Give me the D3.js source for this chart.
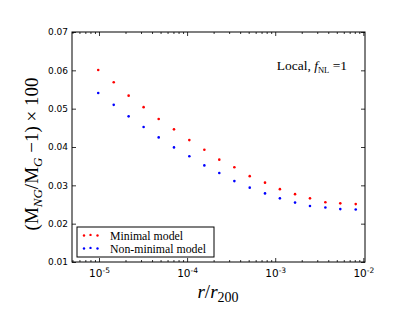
<!DOCTYPE html>
<html>
<head>
<meta charset="utf-8">
<script src="https://cdn.jsdelivr.net/npm/d3@7"></script>
<style>
  body { margin: 0; background: #fff; }
  svg { display: block; }
</style>
</head>
<body>
<svg class="chart" width="415" height="314"></svg>
<script>
// radius bins (r / r200)
const radius = [9.8e-6, 1.47e-5, 2.17e-5, 3.21e-5, 4.76e-5, 7.1e-5, 1.06e-4, 1.57e-4, 2.32e-4,
  3.44e-4, 5.14e-4, 7.66e-4, 1.13e-3, 1.68e-3, 2.48e-3, 3.71e-3, 5.48e-3, 8.2e-3];
// (M_NG/M_G - 1) x 100
const minimal = [0.0601, 0.0569, 0.0534, 0.0504, 0.0473, 0.0446, 0.0418, 0.0393, 0.0367,
  0.0347, 0.0324, 0.0307, 0.0290, 0.0277, 0.0266, 0.0256, 0.0253, 0.0251];
const nonMinimal = [0.0541, 0.0510, 0.0480, 0.0452, 0.0425, 0.0399, 0.0376, 0.0352, 0.0332,
  0.0311, 0.0294, 0.0279, 0.0266, 0.0255, 0.0246, 0.0242, 0.0238, 0.0237];
const yTicks = [0.01, 0.02, 0.03, 0.04, 0.05, 0.06, 0.07];
const xTicks = [1e-5, 1e-4, 1e-3, 1e-2];
const seriesNames = ['Minimal model', 'Non-minimal model'];
const seriesColors = ['#ff0000', '#0000ff'];

const svg = d3.select('.chart');
const pLeft = 72, pRight = 365, pTop = 32, pBottom = 262;

const x = d3.scaleLog().domain([4.94e-6, 1.045e-2]).range([pLeft, pRight]);
const y = d3.scaleLinear().domain([0.01, 0.07]).range([pBottom, pTop]);

// minor ticks on the log axis
const minor = [];
for (let e = -6; e <= -2; e++) {
  for (let m = 2; m <= 9; m++) {
    const v = m * Math.pow(10, e);
    if (v > x.domain()[0] && v < x.domain()[1]) minor.push(v);
  }
}

const tickFont = 'DejaVu Sans, sans-serif';

function styleAxis(g) {
  g.select('.domain').remove();
  g.selectAll('line').attr('stroke', '#000').attr('stroke-width', 0.8);
}

// y axis left (labels) and right
svg.append('g')
  .attr('transform', `translate(${pLeft},0)`)
  .call(d3.axisLeft(y).tickValues(yTicks).tickSize(-4).tickPadding(4).tickFormat(d3.format('.2f')))
  .call(styleAxis)
  .call(g => g.selectAll('text').attr('fill', '#000').style('font-family', tickFont).style('font-size', '9px'));

svg.append('g')
  .attr('transform', `translate(${pRight},0)`)
  .call(d3.axisRight(y).tickValues(yTicks).tickSize(-4).tickFormat(''))
  .call(styleAxis);

// x axis bottom: major + minor
const xb = svg.append('g')
  .attr('transform', `translate(0,${pBottom})`)
  .call(d3.axisBottom(x).tickValues(xTicks).tickSize(-4).tickPadding(6).tickFormat(''))
  .call(styleAxis);
xb.selectAll('.tick').each(function(d) {
  const t = d3.select(this).append('text')
    .attr('y', 15)
    .attr('text-anchor', 'middle')
    .attr('fill', '#000')
    .style('font-family', tickFont)
    .style('font-size', '10.5px');
  t.append('tspan').text('10');
  t.append('tspan').attr('dy', -4.5).style('font-size', '7.5px').text(Math.round(Math.log10(d)));
});
svg.append('g')
  .attr('transform', `translate(0,${pBottom})`)
  .call(d3.axisBottom(x).tickValues(minor).tickSize(-2).tickFormat(''))
  .call(styleAxis);

// x axis top
svg.append('g')
  .attr('transform', `translate(0,${pTop})`)
  .call(d3.axisTop(x).tickValues(xTicks).tickSize(-4).tickFormat(''))
  .call(styleAxis);
svg.append('g')
  .attr('transform', `translate(0,${pTop})`)
  .call(d3.axisTop(x).tickValues(minor).tickSize(-2).tickFormat(''))
  .call(styleAxis);

// frame
svg.append('rect')
  .attr('x', pLeft).attr('y', pTop)
  .attr('width', pRight - pLeft).attr('height', pBottom - pTop)
  .attr('fill', 'none').attr('stroke', '#000').attr('stroke-width', 1);

// points
[minimal, nonMinimal].forEach((vals, i) => {
  svg.append('g').selectAll('circle')
    .data(vals)
    .join('circle')
      .attr('cx', (d, j) => x(radius[j]))
      .attr('cy', d => y(d))
      .attr('r', 1.3)
      .attr('fill', seriesColors[i]);
});

// legend
const lg = svg.append('g');
lg.append('rect')
  .attr('x', 77).attr('y', 227).attr('width', 137).attr('height', 30)
  .attr('fill', '#fff').attr('stroke', '#000').attr('stroke-width', 1);
seriesNames.forEach((name, i) => {
  const ly = 235.5 + i * 13;
  [84, 90.5, 97.5].forEach((lx, k) => {
    lg.append('circle')
      .attr('cx', lx).attr('cy', ly + (k === 1 ? -0.6 : 0))
      .attr('r', 1.2).attr('fill', seriesColors[i]);
  });
  lg.append('text')
    .attr('x', 110).attr('y', ly + 4)
    .style('font-family', 'Liberation Serif, serif')
    .style('font-size', '11.8px')
    .text(name);
});

// annotation
const ann = svg.append('text')
  .attr('x', 347).attr('y', 70)
  .attr('text-anchor', 'end')
  .style('font-family', 'Liberation Serif, serif')
  .style('font-size', '13.5px');
ann.append('tspan').text('Local, ');
ann.append('tspan').style('font-style', 'italic').text('f');
ann.append('tspan').attr('dy', 2.5).style('font-size', '8.5px').text('NL');
ann.append('tspan').attr('dy', -2.5).text(' =1');

// y label
const yl = svg.append('text')
  .attr('transform', 'translate(38,154) rotate(-90)')
  .attr('text-anchor', 'middle')
  .style('font-family', 'Liberation Serif, serif')
  .style('font-size', '19px');
yl.append('tspan').text('(M');
yl.append('tspan').attr('dy', 4).style('font-size', '13px').style('font-style', 'italic').text('NG');
yl.append('tspan').attr('dy', -4).text('/M');
yl.append('tspan').attr('dy', 4).style('font-size', '13px').style('font-style', 'italic').text('G');
yl.append('tspan').attr('dy', -4).text(' \u22121) \u00d7 100');

// x label
const xl = svg.append('text')
  .attr('x', 218).attr('y', 298)
  .attr('text-anchor', 'middle')
  .style('font-family', 'Liberation Serif, serif')
  .style('font-size', '19px');
xl.append('tspan').style('font-style', 'italic').text('r');
xl.append('tspan').text('/');
xl.append('tspan').style('font-style', 'italic').text('r');
xl.append('tspan').attr('dy', 4).style('font-size', '14px').text('200');
</script>
</body>
</html>
